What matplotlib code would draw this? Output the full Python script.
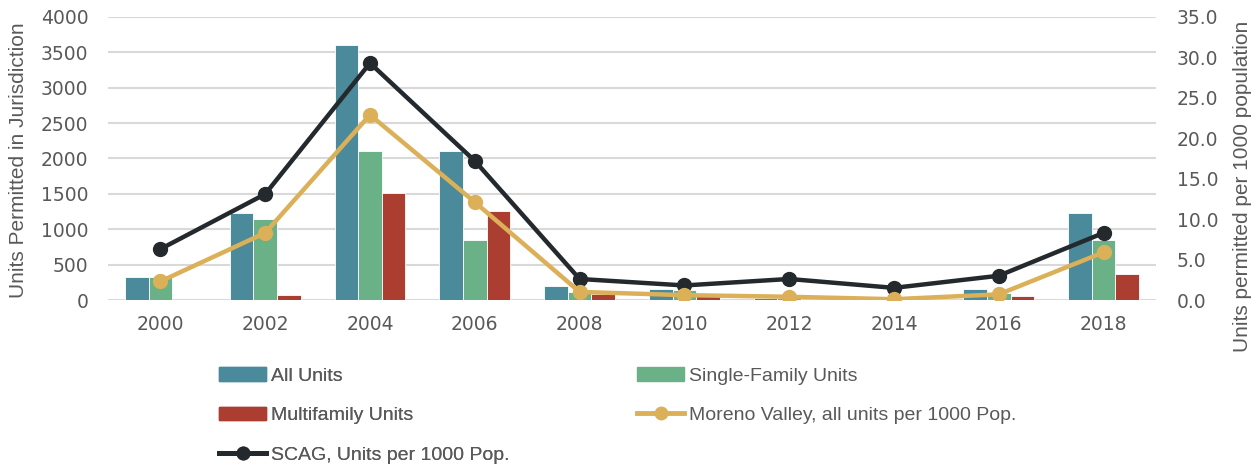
import matplotlib
matplotlib.use("Agg")
import matplotlib.pyplot as plt
import numpy as np
from matplotlib.lines import Line2D
from matplotlib.patches import Patch

years = ["2000", "2002", "2004", "2006", "2008", "2010", "2012", "2014", "2016", "2018"]
all_units = [325, 1230, 3610, 2100, 200, 150, 30, 10, 150, 1230]
single_family = [325, 1150, 2100, 850, 110, 140, 25, 10, 100, 850]
multifamily = [0, 70, 1510, 1260, 80, 50, 5, 0, 55, 370]
moreno_per_1000 = [2.3, 8.3, 22.9, 12.1, 1.0, 0.6, 0.4, 0.1, 0.7, 5.9]
scag_per_1000 = [6.3, 13.1, 29.3, 17.2, 2.6, 1.8, 2.6, 1.5, 3.0, 8.3]

c_all = "#4a8a9a"
c_sf = "#6ab187"
c_mf = "#ab3d31"
c_mv = "#dbb058"
c_scag = "#23292d"
txt = "#595959"

plt.rcParams['font.family'] = ['Liberation Sans', 'DejaVu Sans']

W, H = 1260, 465
fig = plt.figure(figsize=(W/100, H/100), dpi=100)
ax = fig.add_axes([108/W, 1-300/H, (1156-108)/W, (300-17)/H])
ax2 = ax.twinx()

x = np.arange(len(years))
w = 0.225
ax.bar(x - w, all_units, w, color=c_all, edgecolor="white", linewidth=0.6, zorder=2)
ax.bar(x, single_family, w, color=c_sf, edgecolor="white", linewidth=0.6, zorder=2)
ax.bar(x + w, multifamily, w, color=c_mf, edgecolor="white", linewidth=0.6, zorder=2)

ax2.plot(x, scag_per_1000, color=c_scag, lw=3.2, marker="o", ms=10, zorder=3)
ax2.plot(x, moreno_per_1000, color=c_mv, lw=3.2, marker="o", ms=10, zorder=4)

ax.set_xlim(-0.5, 9.5)
ax.set_ylim(0, 4000)
ax.set_yticks(range(0, 4001, 500))
ax2.set_ylim(0, 35)
ax2.set_yticks(np.arange(0, 35.1, 5))
ax2.set_yticklabels([f"{v:.1f}" for v in np.arange(0, 35.1, 5)])
ax.set_xticks(x)
ax.set_xticklabels(years)

ax.yaxis.grid(True, color="#d9d9d9", lw=1.5, zorder=0)
ax.set_axisbelow(True)
tickfont = ["DejaVu Sans"]
for a in (ax, ax2):
    for s in a.spines.values():
        s.set_visible(False)
    a.tick_params(length=0, labelsize=13.5, labelcolor=txt)
    for lab in a.get_xticklabels() + a.get_yticklabels():
        lab.set_family(tickfont)
ax.tick_params(axis="y", pad=14)
ax.tick_params(axis="x", pad=11)
ax2.tick_params(axis="y", pad=15)

fig.text(19/W, 1-160/H, "Units Permitted in Jurisdiction", rotation=90, ha="center", va="center",
         fontsize=15, color=txt)
fig.text(1242/W, 1-186/H, "Units permitted per 1000 population", rotation=90, ha="center", va="center",
         fontsize=15, color=txt)

h_all = Patch(color=c_all)
h_sf = Patch(color=c_sf)
h_mf = Patch(color=c_mf)
h_mv = Line2D([], [], color=c_mv, lw=3.5, marker="o", ms=9)
h_scag = Line2D([], [], color=c_scag, lw=3.5, marker="o", ms=9)

legfont = {"family": ["Liberation Sans", "DejaVu Sans"], "size": 14}
common = dict(loc="upper left", frameon=False, prop=legfont, handlelength=2.42,
              handletextpad=0.25, labelspacing=1.13, labelcolor=txt,
              borderaxespad=0, borderpad=0)
leg1 = fig.legend([h_all, h_mf, h_scag], ["All Units", "Multifamily Units", "SCAG, Units per 1000 Pop."],
                  bbox_to_anchor=(219/W, 1-367/H), **common)
leg2 = fig.legend([h_sf, h_mv], ["Single-Family Units", "Moreno Valley, all units per 1000 Pop."],
                  bbox_to_anchor=(637/W, 1-367/H), **common)
fig.add_artist(leg1)

fig.savefig("out.png", dpi=100)
